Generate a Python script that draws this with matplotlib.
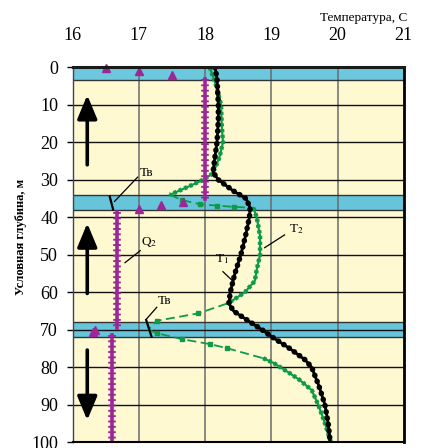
import matplotlib
matplotlib.use('Agg')
import matplotlib.pyplot as plt

plt.rcParams['font.family'] = ['Liberation Serif', 'DejaVu Serif']
plt.rcParams['mathtext.fontset'] = 'stix'

# temperature axis ticks and depth ticks
temp_ticks = [16, 17, 18, 19, 20, 21]
depth_ticks = [0, 10, 20, 30, 40, 50, 60, 70, 80, 90, 100]

# water-bearing layers (top, bottom depth, m)
layers = [(0, 3.5), (34, 38), (68, 72)]

# T1 - measured temperature (black dots)
t1_depth = [0, 3, 10, 14, 20, 25, 28, 30, 33, 35, 37.5, 40, 45, 50, 55, 60, 63,
            65, 67, 70, 72, 75, 78, 80, 85, 90, 95, 100]
t1_temp = [18.15, 18.18, 18.2, 18.2, 18.18, 18.14, 18.12, 18.2, 18.43, 18.62, 18.68,
           18.67, 18.61, 18.54, 18.45, 18.38, 18.36, 18.43, 18.6, 18.86, 19.02, 19.28,
           19.51, 19.61, 19.72, 19.81, 19.86, 19.89]

# T2 - green curve, split into solid and dashed pieces
t2_solid = [
    ([0, 5, 10, 15, 20, 23.8, 26.5, 28.5, 30, 31.8, 34],
     [18.07, 18.17, 18.24, 18.25, 18.27, 18.22, 18.16, 18.1, 17.97, 17.75, 17.47]),
    ([37.5, 40, 45, 50, 54, 57, 60, 62, 63],
     [18.73, 18.78, 18.83, 18.83, 18.78, 18.75, 18.6, 18.43, 18.33]),
    ([77.6, 78.8, 81.6, 83.4, 86.1, 90, 94.9, 99.4, 100],
     [18.88, 19.03, 19.28, 19.43, 19.61, 19.71, 19.81, 19.89, 19.9]),
]
t2_dashed = [
    ([34, 35.4, 36.5, 36.9, 37.2, 37.5],
     [17.47, 17.65, 17.92, 18.18, 18.43, 18.73]),
    ([63, 65.6, 67.6, 70],
     [18.33, 17.9, 17.27, 17.14]),
    ([70, 70.9, 72.5, 73.8, 74.9, 77.6],
     [17.14, 17.27, 17.65, 18.07, 18.33, 18.88]),
]

# Q2 - purple triangles: continuous columns and isolated points
q2_columns = [([3, 35], [18.0, 18.0]), ([38.5, 69.5], [16.67, 16.67]),
              ([71.5, 100], [16.6, 16.6])]
q2_pts_depth = [0.3, 1.0, 2.0, 35.8, 36.7, 37.8, 70.0, 70.5]
q2_pts_temp = [16.5, 17.0, 17.5, 17.66, 17.34, 17.0, 16.33, 16.3]

# Tв marks (short black segments)
tv_marks = [([34.5, 37.9], [16.56, 16.61]), ([67.4, 71.8], [17.11, 17.19])]

# flow arrows: (x, from depth, to depth)
arrows = [(16.22, 26, 7.4), (16.22, 60.3, 41.6), (16.22, 75.4, 94.1)]

fig = plt.figure(figsize=(4.21, 4.48), dpi=100)
ax = fig.add_axes([72.7 / 421, 1 - 442.3 / 448, 331 / 421, 375 / 448])
ax.set_xlim(16, 21)
ax.set_ylim(100, 0)
ax.set_facecolor('#FFF9D2')

for top, bot in layers:
    col = '#6CC9DD' if top == 0 else '#66C4DB'
    ax.axhspan(top, bot, color=col, zorder=0.3, lw=0)
    ax.axhline(top, color='#333333', lw=1, zorder=1.2)
    ax.axhline(bot, color='#333333', lw=1, zorder=1.2)

for t in temp_ticks[1:-1]:
    ax.axvline(t, color='#6b6b6b', lw=1.1, zorder=1)
for d in depth_ticks[1:-1]:
    ax.axhline(d, color='#111111', lw=1, zorder=1.1)

# curves
ax.plot(t1_temp, t1_depth, color='black', lw=2.0, zorder=4)
ax.plot(t1_temp, t1_depth, color='black', lw=4.0, ls=(0, (0.05, 1.1)),
        dash_capstyle='round', zorder=4)

green = '#0E9A48'
for d, t in t2_solid:
    ax.plot(t, d, color=green, lw=1.6, zorder=3)
    ax.plot(t, d, color=green, lw=3.2, ls=(0, (0.7, 0.6)), zorder=3)
for d, t in t2_dashed:
    ax.plot(t, d, color=green, lw=1.3, ls=(0, (5, 2.5)), zorder=3)
    ax.plot(t[1:-1], d[1:-1], ls='none', color=green, marker='s', ms=2.8, zorder=3)

purple = '#9C2796'
for d, t in q2_columns:
    ax.plot(t, d, color=purple, lw=2.6, zorder=3.5)
    ax.plot(t, d, color=purple, lw=5.5, ls=(0, (0.25, 0.45)), zorder=3.5)
ax.plot(q2_pts_temp, q2_pts_depth, ls='none', marker='^', ms=5.5,
        color=purple, zorder=3.5, clip_on=False)

for d, t in tv_marks:
    ax.plot(t, d, color='black', lw=1.6, zorder=5)

for x, d0, d1 in arrows:
    ax.annotate('', xy=(x, d1), xytext=(x, d0),
                arrowprops=dict(arrowstyle='-|>,head_length=0.72,head_width=0.3',
                                mutation_scale=20, lw=2.6, color='black',
                                shrinkA=0, shrinkB=0), zorder=5)

# labels with leaders
fs = 9.5
ax.text(17.11, 28.2, 'Тв', fontsize=fs, ha='center', va='center', zorder=6)
ax.plot([16.98, 16.63], [29.3, 35.8], color='black', lw=0.9, zorder=6)
ax.text(17.39, 62.3, 'Тв', fontsize=fs, ha='center', va='center', zorder=6)
ax.plot([17.27, 17.11], [64.0, 67.2], color='black', lw=0.9, zorder=6)
ax.text(17.15, 46.7, r'Q$_2$', fontsize=fs, ha='center', va='center', zorder=6)
ax.plot([17.02, 16.79], [48.9, 52.1], color='black', lw=0.9, zorder=6)
ax.text(18.25, 51.2, r'T$_1$', fontsize=fs, ha='center', va='center', zorder=6)
ax.plot([18.27, 18.43], [54.5, 57.2], color='black', lw=0.9, zorder=6)
ax.text(19.38, 43.2, r'T$_2$', fontsize=fs, ha='center', va='center', zorder=6)
ax.plot([19.2, 18.9], [44.7, 48.1], color='black', lw=0.9, zorder=6)

# axes styling
ax.xaxis.tick_top()
ax.set_xticks(temp_ticks)
ax.set_yticks(depth_ticks)
ax.tick_params(axis='x', length=0, pad=17, labelsize=13)
ax.tick_params(axis='y', length=4.5, width=1, pad=6, labelsize=13, direction='out')
ax.spines['top'].set_linewidth(2.2)
ax.spines['top'].set_color('#1a1a1a')
ax.spines['right'].set_linewidth(2.0)
ax.spines['bottom'].set_linewidth(1.5)
ax.spines['left'].set_linewidth(1.0)
ax.spines['left'].set_color('#444444')
for s in ax.spines.values():
    s.set_zorder(7)

fig.text(407 / 421, 1 - 17.5 / 448, 'Температура, С', fontsize=9.5,
         ha='right', va='center')
fig.text(21 / 421, 1 - 237 / 448, 'Условная глубина, м', fontsize=9,
         fontweight='bold', rotation=90, ha='center', va='center')

fig.savefig('out.png', dpi=100)
